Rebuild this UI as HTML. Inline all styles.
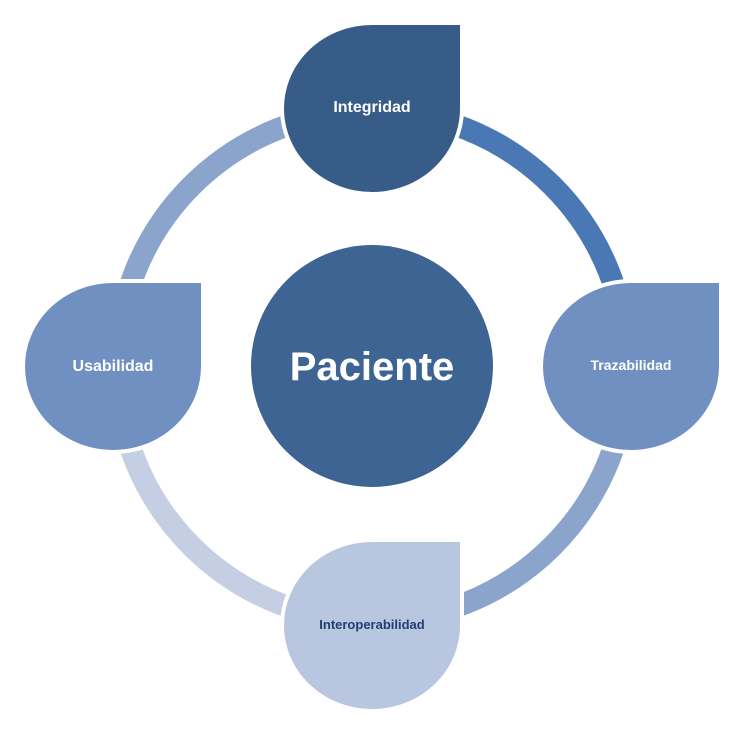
<!DOCTYPE html>
<html><head><meta charset="utf-8"><style>
html,body{margin:0;padding:0;background:#fff;}
svg{display:block;}
text{font-family:"Liberation Sans",sans-serif;font-weight:bold;}
</style></head><body>
<svg width="748" height="732" viewBox="0 0 748 732" xmlns="http://www.w3.org/2000/svg">
<g fill="none" stroke-width="22">
<path d="M372 111 A255 255 0 0 1 627 366" stroke="#4A78B4"/>
<path d="M627 366 A255 255 0 0 1 372 621" stroke="#8AA4CC"/>
<path d="M372 621 A255 255 0 0 1 117 366" stroke="#C4CFE3"/>
<path d="M117 366 A255 255 0 0 1 372 111" stroke="#8AA4CC"/>
</g>
<circle cx="372" cy="366" r="121" fill="#3E6494"/>
<text x="372" y="380" fill="#fff" font-size="40" text-anchor="middle">Paciente</text>
<g stroke="#fff" stroke-width="4">
<path d="M462 23 L462 108 A90 85.5 0 1 1 372 23 Z" fill="#385C88"/>
<path d="M721 281 L721 366 A90 85.5 0 1 1 631 281 Z" fill="#7090C2"/>
<path d="M462 540 L462 625 A90 85.5 0 1 1 372 540 Z" fill="#B8C6E0"/>
<path d="M203 281 L203 366 A90 85.5 0 1 1 113 281 Z" fill="#7090C2"/>
</g>
<text x="372" y="112" fill="#fff" font-size="16" text-anchor="middle">Integridad</text>
<text x="631" y="370" fill="#fff" font-size="14" text-anchor="middle">Trazabilidad</text>
<text x="372" y="629" fill="#1F3F6F" font-size="13" text-anchor="middle">Interoperabilidad</text>
<text x="113" y="371" fill="#fff" font-size="16" text-anchor="middle">Usabilidad</text>
</svg>
</body></html>
